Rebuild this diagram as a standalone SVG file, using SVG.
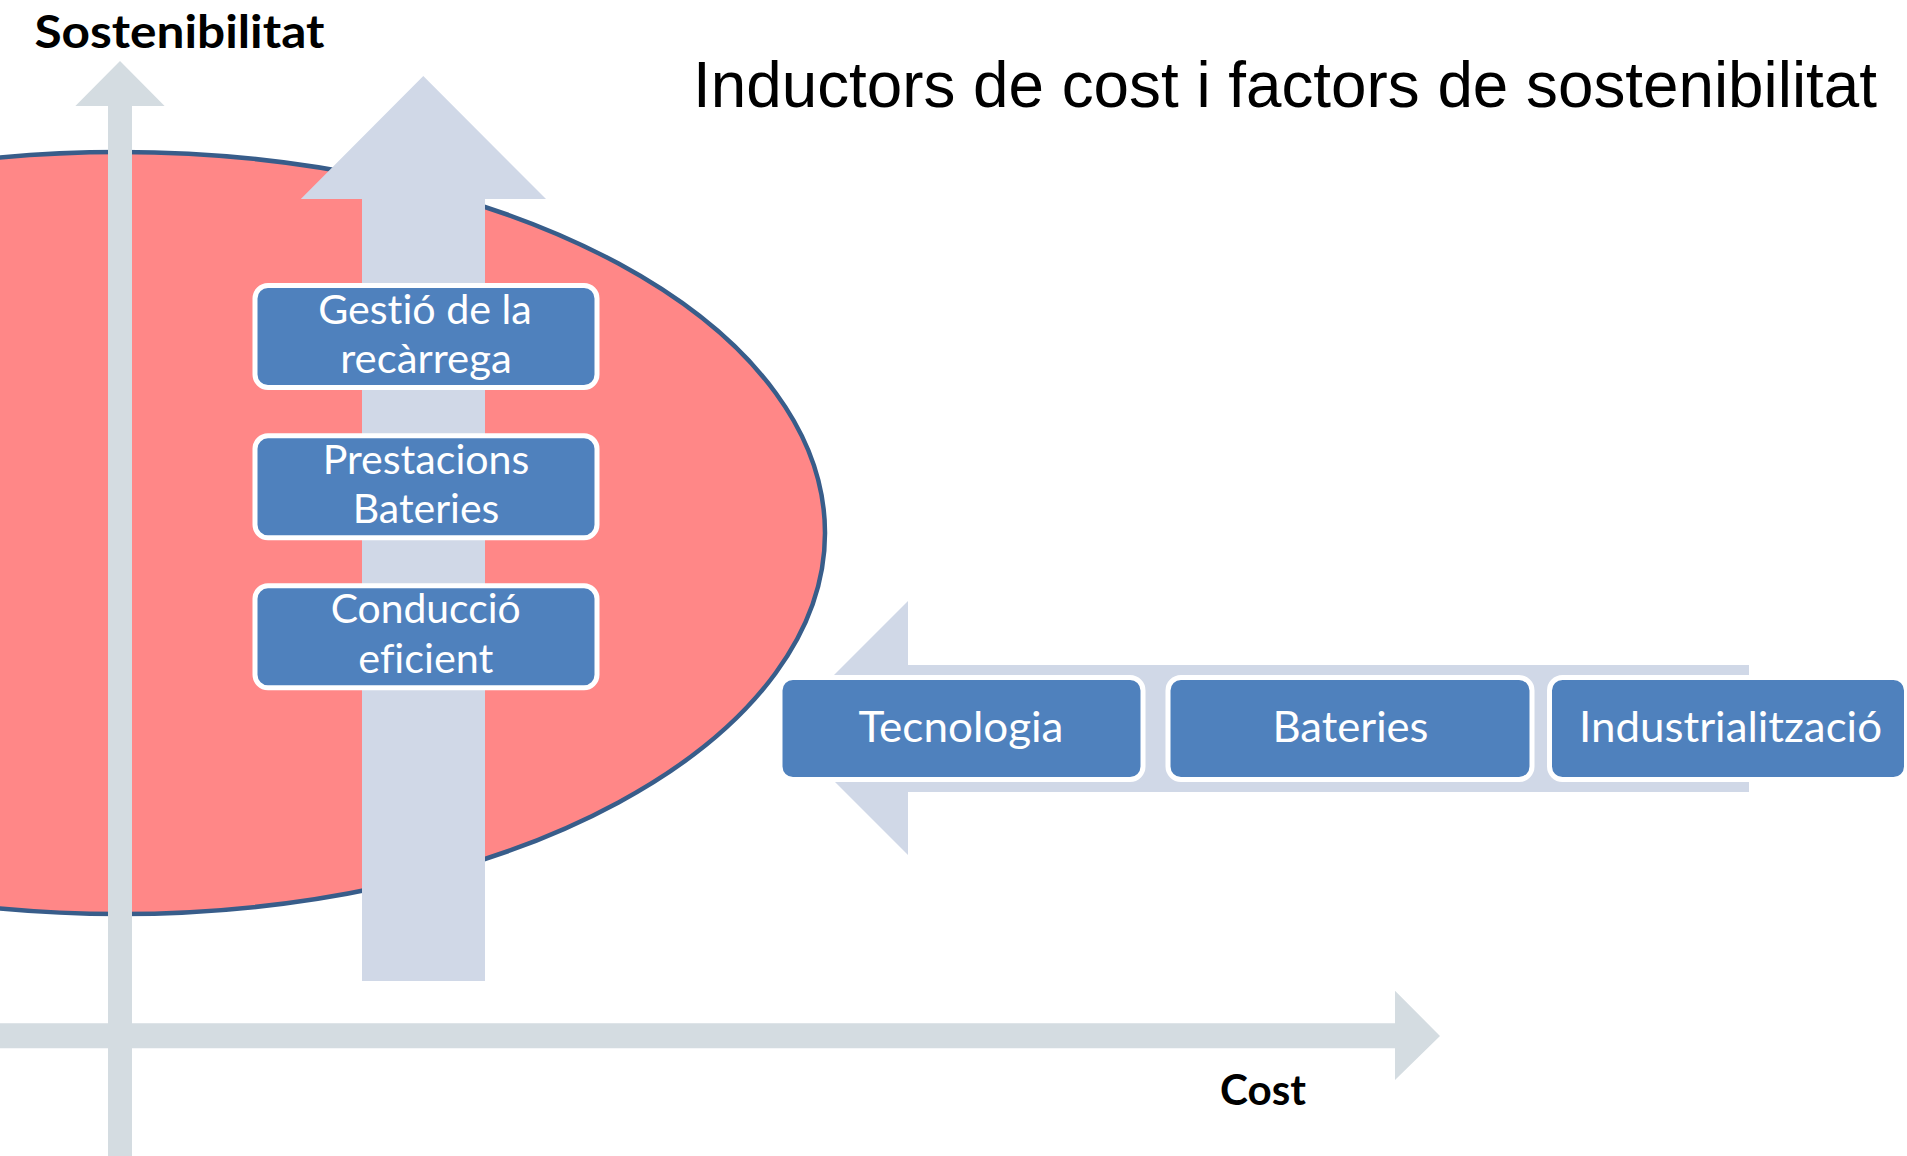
<svg xmlns="http://www.w3.org/2000/svg" width="1907" height="1156" viewBox="0 0 1907 1156">
  <style>
    .axis { fill: #D4DCE1; }
    .band { fill: #D0D8E7; }
    .box { fill: #4F81BD; stroke: #FFFFFF; stroke-width: 5; }
    .boxtext { font-family: Lato, "Open Sans", "Liberation Sans", sans-serif; fill: #FFFFFF; text-anchor: middle; font-variant-ligatures: none; }
    .axislabel { font-family: Lato, "Open Sans", "Liberation Sans", sans-serif; font-weight: bold; fill: #000000; font-variant-ligatures: none; }
    .title { font-family: "Liberation Sans", Arial, sans-serif; fill: #000000; }
  </style>
  <rect x="0" y="0" width="1907" height="1156" fill="#FFFFFF"/>

  <g id="ellipse">
    <ellipse cx="120" cy="533" rx="705" ry="381" fill="#FF8787" stroke="#385D8A" stroke-width="4.5"/>
  </g>

  <g id="connectors">
    <g id="axis-vertical">
      <polygon class="axis" points="120,61 164.6,106 132,106 132,1156 108,1156 108,106 75.4,106"/>
    </g>
    <g id="axis-horizontal">
      <polygon class="axis" points="0,1023.3 1395,1023.3 1395,990.7 1440,1036 1395,1080 1395,1048.3 0,1048.3"/>
    </g>
    <g id="arrow-up">
      <polygon class="band" points="423.3,76 546,199 485,199 485,981 362,981 362,199 300.8,199"/>
    </g>
    <g id="arrow-left">
      <polygon class="band" points="781,728 908,601 908,665 1749,665 1749,792 908,792 908,855"/>
    </g>
  </g>

  <g id="node-gestio">
    <rect class="box" x="255" y="285.5" width="342" height="102" rx="13"/>
    <text class="boxtext" x="425" y="324.3" font-size="41" textLength="213.7" lengthAdjust="spacingAndGlyphs">Gestió de la</text>
    <text class="boxtext" x="426" y="372.7" font-size="41" textLength="171.7" lengthAdjust="spacingAndGlyphs">recàrrega</text>
  </g>
  <g id="node-prestacions">
    <rect class="box" x="255" y="435.8" width="342" height="102" rx="13"/>
    <text class="boxtext" x="426" y="474" font-size="41" textLength="206.7" lengthAdjust="spacingAndGlyphs">Prestacions</text>
    <text class="boxtext" x="426" y="523.3" font-size="41" textLength="146.7" lengthAdjust="spacingAndGlyphs">Bateries</text>
  </g>
  <g id="node-conduccio">
    <rect class="box" x="255" y="585.8" width="342" height="102" rx="13"/>
    <text class="boxtext" x="425.7" y="623.3" font-size="41" textLength="190" lengthAdjust="spacingAndGlyphs">Conducció</text>
    <text class="boxtext" x="425.8" y="672.7" font-size="41" textLength="135" lengthAdjust="spacingAndGlyphs">eficient</text>
  </g>

  <g id="node-tecnologia">
    <rect class="box" x="780" y="677.5" width="363" height="102" rx="13"/>
    <text class="boxtext" x="961" y="741.7" font-size="42" textLength="205" lengthAdjust="spacingAndGlyphs">Tecnologia</text>
  </g>
  <g id="node-bateries">
    <rect class="box" x="1168" y="677.5" width="364" height="102" rx="13"/>
    <text class="boxtext" x="1350.5" y="741.7" font-size="42" textLength="156" lengthAdjust="spacingAndGlyphs">Bateries</text>
  </g>
  <g id="node-industrialitzacio">
    <rect class="box" x="1549.5" y="677.5" width="357" height="102" rx="13"/>
    <text class="boxtext" x="1730.5" y="741.7" font-size="42" textLength="303" lengthAdjust="spacingAndGlyphs">Industrialització</text>
  </g>

  <g id="labels">
    <text class="axislabel" x="34.4" y="47.7" font-size="45" textLength="290" lengthAdjust="spacingAndGlyphs">Sostenibilitat</text>
    <text class="axislabel" x="1220" y="1105" font-size="42" textLength="86" lengthAdjust="spacingAndGlyphs">Cost</text>
    <text class="title" x="693" y="107.3" font-size="64" textLength="1184" lengthAdjust="spacingAndGlyphs">Inductors de cost i factors de sostenibilitat</text>
  </g>
</svg>
